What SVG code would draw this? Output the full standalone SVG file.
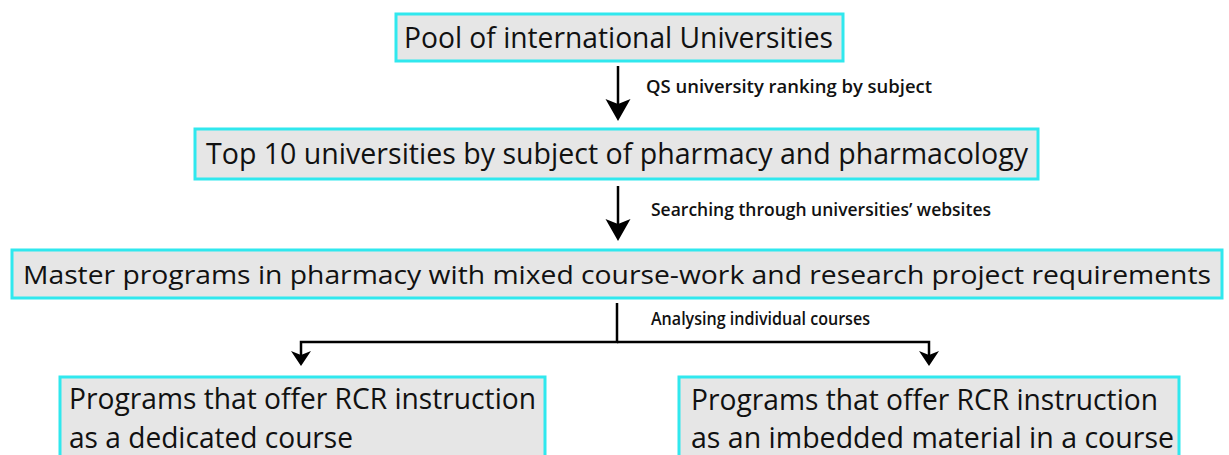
<svg xmlns="http://www.w3.org/2000/svg" width="1229" height="455" viewBox="0 0 1229 455">
  <style>
    .box { fill: #e6e6e6; stroke: #30e8ee; stroke-width: 3; }
    .t { font-family: "Open Sans", "Noto Sans", "Liberation Sans", sans-serif; font-size: 29px; fill: #111; }
    .t-wide { font-size: 26px; }
    .lbl { font-family: "Open Sans", "Noto Sans", "Liberation Sans", sans-serif; font-size: 17.5px; font-weight: 600; fill: #111; }
    .conn { fill: none; stroke: #000; }
  </style>
  <defs>
    <marker id="bigArrow" markerUnits="userSpaceOnUse" viewBox="0 -13 22 26" refX="8" refY="0" markerWidth="22" markerHeight="26" orient="auto">
      <path d="M0,-12.5 L22,0 L0,12.5 L5,0 Z" fill="#000"/>
    </marker>
    <marker id="smallArrow" markerUnits="userSpaceOnUse" viewBox="0 -10 15 20" refX="6" refY="0" markerWidth="15" markerHeight="20" orient="auto">
      <path d="M0,-10 L15,0 L0,10 L4,0 Z" fill="#000"/>
    </marker>
  </defs>

  <g id="connectors">
    <line class="conn" x1="618" y1="66" x2="618" y2="107" stroke-width="2.5" marker-end="url(#bigArrow)"/>
    <line class="conn" x1="618" y1="186" x2="618" y2="227" stroke-width="2.5" marker-end="url(#bigArrow)"/>
    <polyline class="conn" points="617,303 617,342 301,342 301,357" stroke-width="2.5" marker-end="url(#smallArrow)"/>
    <polyline class="conn" points="617,342 929,342 929,357" stroke-width="2.5" marker-end="url(#smallArrow)"/>
    <text class="lbl" x="646" y="93" textLength="286" lengthAdjust="spacingAndGlyphs">QS university ranking by subject</text>
    <text class="lbl" x="651" y="216" textLength="340" lengthAdjust="spacingAndGlyphs">Searching through universities’ websites</text>
    <text class="lbl" x="651" y="325" textLength="219" lengthAdjust="spacingAndGlyphs">Analysing individual courses</text>
  </g>

  <g id="pool">
    <rect class="box" x="396" y="14" width="447" height="47"/>
    <text class="t" x="404" y="48" textLength="429" lengthAdjust="spacingAndGlyphs">Pool of international Universities</text>
  </g>

  <g id="top10">
    <rect class="box" x="195" y="129" width="843" height="50"/>
    <text class="t" x="206" y="164" textLength="822" lengthAdjust="spacingAndGlyphs">Top 10 universities by subject of pharmacy and pharmacology</text>
  </g>

  <g id="master">
    <rect class="box" x="12" y="250" width="1210" height="48"/>
    <text class="t t-wide" x="23" y="284" textLength="1188" lengthAdjust="spacingAndGlyphs">Master programs in pharmacy with mixed course-work and research project requirements</text>
  </g>

  <g id="dedicated">
    <rect class="box" x="60" y="377" width="485" height="100"/>
    <text class="t" x="69" y="409" textLength="467" lengthAdjust="spacingAndGlyphs">Programs that offer RCR instruction</text>
    <text class="t" x="69" y="448" textLength="284" lengthAdjust="spacingAndGlyphs">as a dedicated course</text>
  </g>

  <g id="embedded">
    <rect class="box" x="679" y="377" width="500" height="100"/>
    <text class="t" x="691" y="410" textLength="467" lengthAdjust="spacingAndGlyphs">Programs that offer RCR instruction</text>
    <text class="t" x="691" y="448" textLength="483" lengthAdjust="spacingAndGlyphs">as an imbedded material in a course</text>
  </g>
</svg>
